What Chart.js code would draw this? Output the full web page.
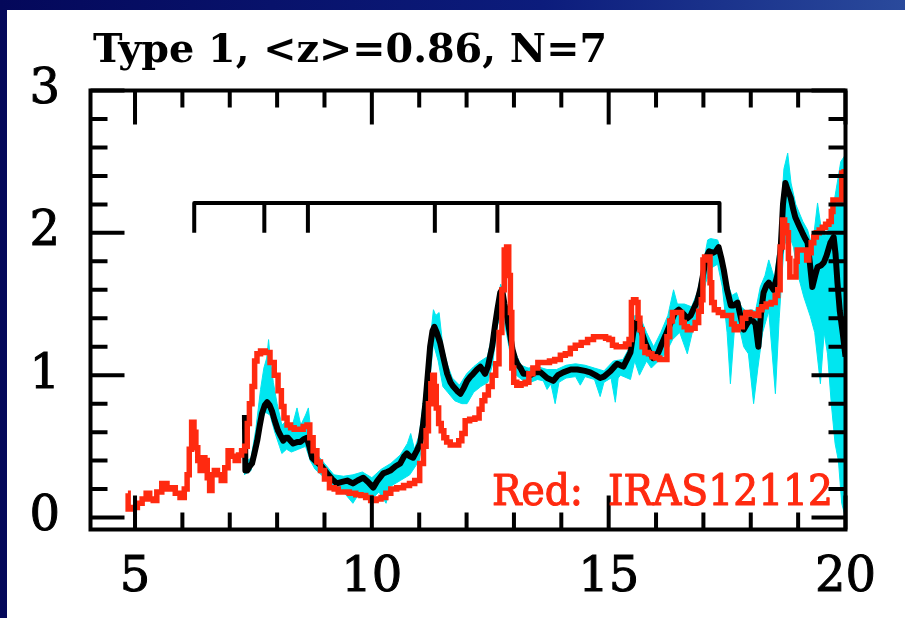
<!DOCTYPE html>
<html>
<head>
<meta charset="utf-8">
<script src="https://cdn.jsdelivr.net/npm/chart.js@4.4.1/dist/chart.umd.min.js"></script>
<style>
  html, body { margin: 0; padding: 0; background: #0a1078; }
  canvas { display: block; }
</style>
</head>
<body>
<canvas id="spec" width="905" height="618"></canvas>
<script>
// ---- labels ----
const titleText = 'Type 1, <z>=0.86, N=7';
const noteText = 'Red:  IRAS12112';
const xTickValues = [5, 10, 15, 20];
const yTickValues = [0, 1, 2, 3];

// PAH feature marks (microns) and the bracket height (flux units)
const featureBands = [6.25, 7.73, 8.65, 11.33, 12.65, 17.34];
const featureLevel = [2.21, 2.0];

// ---- template spectrum (black) ----
const blackWave = [7.32,7.33,7.37,7.42,7.47,7.52,7.58,7.63,7.68,7.74,7.79,7.84,7.89,7.95,8.02,8.08,8.13,8.18,8.23,8.28,8.34,8.42,8.49,8.56,8.63,8.68,8.74,8.8,8.87,8.94,9.01,9.08,9.16,9.26,9.37,9.48,9.54,9.6,9.7,9.82,9.92,10.03,10.12,10.24,10.32,10.39,10.5,10.6,10.68,10.74,10.8,10.87,10.95,11.02,11.08,11.13,11.18,11.23,11.28,11.32,11.37,11.44,11.52,11.59,11.66,11.72,11.8,11.87,11.94,12.01,12.08,12.14,12.22,12.29,12.35,12.39,12.45,12.54,12.6,12.65,12.71,12.75,12.8,12.86,12.92,12.97,13.02,13.07,13.14,13.2,13.28,13.35,13.45,13.56,13.7,13.83,13.93,14.04,14.2,14.34,14.5,14.61,14.72,14.82,14.9,15.04,15.12,15.18,15.25,15.31,15.4,15.46,15.52,15.58,15.64,15.7,15.77,15.85,15.94,16.05,16.12,16.2,16.3,16.4,16.48,16.58,16.66,16.73,16.8,16.87,16.94,17.0,17.06,17.12,17.2,17.26,17.32,17.38,17.43,17.5,17.58,17.64,17.72,17.78,17.85,17.92,17.99,18.05,18.1,18.16,18.22,18.27,18.33,18.38,18.48,18.56,18.63,18.68,18.73,18.78,18.84,18.9,18.94,19.02,19.09,19.15,19.2,19.25,19.3,19.36,19.41,19.48,19.54,19.6,19.68,19.75,19.79,19.83,19.88,19.94,20.0];
const blackFlux = [0.72,0.33,0.33,0.36,0.38,0.45,0.54,0.64,0.73,0.79,0.81,0.79,0.75,0.68,0.61,0.57,0.54,0.56,0.56,0.54,0.52,0.53,0.53,0.55,0.56,0.50,0.42,0.40,0.38,0.36,0.33,0.30,0.27,0.24,0.25,0.26,0.25,0.24,0.26,0.28,0.25,0.21,0.26,0.31,0.32,0.33,0.36,0.38,0.43,0.45,0.43,0.42,0.47,0.52,0.65,0.80,1.00,1.20,1.31,1.34,1.30,1.23,1.11,1.01,0.95,0.92,0.89,0.87,0.91,0.96,0.99,1.01,1.04,1.06,1.03,1.01,1.06,1.20,1.35,1.46,1.58,1.60,1.50,1.40,1.28,1.18,1.12,1.08,1.05,1.01,1.01,1.00,1.02,1.02,0.98,0.96,1.00,1.02,1.04,1.04,1.03,1.02,1.00,0.98,0.99,1.03,1.06,1.08,1.07,1.06,1.12,1.16,1.30,1.37,1.36,1.30,1.23,1.17,1.12,1.16,1.22,1.28,1.36,1.44,1.46,1.43,1.40,1.42,1.47,1.52,1.61,1.72,1.83,1.87,1.86,1.87,1.90,1.82,1.74,1.60,1.49,1.49,1.51,1.42,1.32,1.36,1.39,1.38,1.36,1.20,1.45,1.58,1.63,1.65,1.60,1.70,1.88,2.20,2.35,2.30,2.25,2.16,2.11,2.05,2.00,1.96,1.93,1.78,1.62,1.70,1.76,1.77,1.79,1.84,1.93,1.97,1.85,1.65,1.45,1.30,1.13];

// ---- scatter envelope of the template (cyan) ----
const bandTopWave = [7.3,7.45,7.55,7.65,7.72,7.78,7.82,7.86,7.92,8.0,8.1,8.2,8.3,8.42,8.5,8.6,8.66,8.72,8.85,9.0,9.2,9.4,9.6,9.8,10.0,10.2,10.4,10.6,10.75,10.82,10.9,11.0,11.1,11.2,11.3,11.35,11.42,11.5,11.6,11.7,11.85,12.0,12.15,12.3,12.44,12.55,12.65,12.72,12.8,12.9,13.0,13.15,13.3,13.5,13.7,13.9,14.1,14.3,14.5,14.7,14.9,15.1,15.3,15.45,15.55,15.65,15.8,15.95,16.1,16.25,16.37,16.45,16.6,16.75,16.87,16.98,17.09,17.15,17.3,17.4,17.5,17.6,17.7,17.8,17.9,18.0,18.1,18.2,18.3,18.38,18.5,18.6,18.7,18.78,18.85,18.95,19.1,19.2,19.3,19.41,19.5,19.6,19.7,19.8,19.9,20.0];
const bandTopFlux = [0.38,0.42,0.62,0.90,1.05,1.12,1.25,1.10,0.95,0.80,0.65,0.68,0.62,0.77,0.65,0.72,0.77,0.58,0.44,0.38,0.30,0.29,0.30,0.32,0.28,0.34,0.38,0.44,0.52,0.59,0.48,0.58,0.85,1.15,1.46,1.42,1.44,1.20,1.07,0.98,0.93,1.01,1.06,1.10,1.13,1.30,1.52,1.64,1.56,1.35,1.18,1.07,1.05,1.06,1.04,1.04,1.07,1.08,1.07,1.05,1.03,1.10,1.11,1.20,1.42,1.42,1.30,1.20,1.30,1.42,1.60,1.50,1.50,1.48,1.58,1.75,1.95,1.96,1.95,1.85,1.66,1.56,1.58,1.48,1.45,1.46,1.45,1.62,1.70,1.81,1.68,1.95,2.45,2.56,2.35,2.20,2.08,2.02,1.90,2.21,2.00,1.98,2.10,2.30,2.50,2.55];
const bandLowWave = [7.3,7.45,7.55,7.65,7.75,7.85,7.95,8.05,8.1,8.2,8.3,8.45,8.6,8.7,8.8,9.0,9.2,9.4,9.6,9.75,9.9,10.0,10.15,10.3,10.4,10.6,10.8,11.0,11.1,11.2,11.3,11.4,11.5,11.6,11.75,11.9,12.01,12.15,12.3,12.45,12.55,12.65,12.75,12.85,12.95,13.05,13.2,13.35,13.5,13.62,13.7,13.78,13.87,13.95,14.1,14.3,14.4,14.5,14.7,14.82,14.9,14.95,15.05,15.14,15.2,15.25,15.46,15.55,15.65,15.8,15.9,16.05,16.2,16.35,16.5,16.66,16.8,16.95,17.05,17.15,17.3,17.4,17.5,17.57,17.65,17.75,17.85,17.95,18.06,18.15,18.25,18.38,18.52,18.6,18.7,18.8,18.9,19.0,19.12,19.26,19.35,19.47,19.55,19.62,19.7,19.78,19.85,19.92,20.0];
const bandLowFlux = [0.30,0.33,0.48,0.66,0.74,0.72,0.60,0.50,0.45,0.48,0.46,0.48,0.50,0.40,0.34,0.28,0.20,0.18,0.10,0.18,0.15,0.13,0.18,0.10,0.22,0.26,0.30,0.40,0.58,0.90,1.22,1.10,0.92,0.88,0.82,0.80,0.80,0.88,0.92,0.95,1.08,1.35,1.45,1.28,1.10,1.00,0.96,0.95,0.97,0.96,0.90,0.94,0.80,0.95,0.98,0.99,0.93,0.99,0.97,0.85,0.95,0.96,0.98,0.81,0.98,1.00,0.97,1.10,1.00,1.10,1.05,1.10,1.15,1.25,1.30,1.15,1.35,1.48,1.65,1.75,1.78,1.62,1.30,0.94,1.30,1.35,1.20,1.15,0.80,1.05,1.30,1.45,0.87,1.40,1.90,2.00,1.90,1.70,1.55,1.41,1.30,0.94,1.30,1.15,0.80,0.52,0.40,0.10,0.00];

// ---- IRAS 12112 spectrum (red) ----
const redWave = [4.85,4.86,5.0,5.1,5.2,5.27,5.35,5.42,5.5,5.63,5.72,5.8,5.9,6.0,6.08,6.12,6.17,6.22,6.27,6.3,6.35,6.4,6.45,6.5,6.55,6.6,6.65,6.7,6.78,6.86,6.93,7.0,7.08,7.15,7.22,7.28,7.35,7.39,7.44,7.5,7.55,7.6,7.7,7.8,7.9,7.98,8.06,8.12,8.17,8.25,8.32,8.4,8.5,8.6,8.66,8.72,8.8,8.88,8.95,9.05,9.16,9.25,9.33,9.45,9.6,9.72,9.82,9.92,10.03,10.15,10.24,10.35,10.45,10.6,10.74,10.85,10.96,11.06,11.12,11.17,11.22,11.27,11.3,11.34,11.38,11.44,11.49,11.55,11.61,11.7,11.8,11.87,11.93,12.01,12.12,12.23,12.3,12.35,12.42,12.5,12.58,12.65,12.72,12.77,12.82,12.87,12.91,12.94,12.97,13.02,13.1,13.2,13.28,13.35,13.45,13.56,13.7,13.8,13.92,14.04,14.13,14.25,14.34,14.5,14.61,14.75,14.9,14.97,15.04,15.12,15.2,15.31,15.4,15.46,15.5,15.55,15.6,15.64,15.68,15.73,15.8,15.88,15.95,16.03,16.12,16.2,16.26,16.32,16.37,16.45,16.51,16.57,16.62,16.7,16.78,16.87,16.93,16.98,17.0,17.05,17.12,17.16,17.19,17.27,17.36,17.46,17.57,17.62,17.68,17.78,17.86,17.93,18.04,18.14,18.2,18.27,18.38,18.48,18.55,18.59,18.65,18.69,18.74,18.78,18.81,18.84,18.94,18.97,18.99,19.1,19.16,19.2,19.25,19.3,19.36,19.41,19.48,19.54,19.62,19.68,19.72,19.75,19.85,19.9,19.94,20.0];
const redFlux = [0.17,0.06,0.07,0.10,0.13,0.17,0.13,0.12,0.18,0.24,0.20,0.21,0.17,0.14,0.20,0.30,0.48,0.67,0.60,0.49,0.40,0.33,0.42,0.40,0.28,0.19,0.30,0.33,0.30,0.26,0.35,0.47,0.43,0.40,0.44,0.47,0.50,0.66,0.80,0.92,1.10,1.15,1.17,1.16,1.09,1.00,0.89,0.78,0.70,0.65,0.63,0.62,0.62,0.64,0.65,0.56,0.47,0.39,0.33,0.27,0.21,0.20,0.18,0.18,0.17,0.16,0.155,0.14,0.12,0.13,0.14,0.17,0.20,0.21,0.225,0.24,0.26,0.38,0.50,0.61,0.80,0.94,1.00,0.92,0.77,0.66,0.61,0.56,0.53,0.51,0.51,0.54,0.59,0.68,0.69,0.70,0.76,0.82,0.86,0.92,1.00,1.08,1.30,1.60,1.88,1.90,1.70,1.44,1.05,0.95,0.93,0.94,0.95,1.01,1.05,1.09,1.09,1.10,1.11,1.14,1.15,1.19,1.21,1.23,1.25,1.27,1.27,1.26,1.25,1.21,1.20,1.20,1.22,1.25,1.51,1.53,1.51,1.40,1.32,1.20,1.16,1.15,1.13,1.12,1.11,1.11,1.27,1.38,1.44,1.44,1.44,1.37,1.34,1.32,1.33,1.37,1.45,1.53,1.81,1.83,1.83,1.65,1.51,1.46,1.44,1.42,1.42,1.36,1.32,1.34,1.40,1.44,1.43,1.42,1.46,1.48,1.50,1.51,1.56,1.60,1.90,2.09,2.05,2.00,1.82,1.69,1.69,1.80,1.88,1.88,1.88,1.81,1.86,1.93,1.97,2.00,2.02,2.04,2.06,2.08,2.15,2.23,2.23,2.23,2.42,2.43];

const pairs = (xs, ys) => xs.map((x, i) => ({ x, y: ys[i] }));

const INK = '#000000';
const RED = '#ff2a10';
const CYAN = '#00e6f0';

// draw a string stretched or squeezed to a given width, with a light outline for weight
function fitText(ctx, text, left, baseline, width, outline) {
  const w = ctx.measureText(text).width;
  ctx.save();
  ctx.translate(left, baseline);
  ctx.scale(width / w, 1);
  ctx.fillText(text, 0, 0);
  if (outline) {
    ctx.lineWidth = outline;
    ctx.strokeStyle = ctx.fillStyle;
    ctx.lineJoin = 'round';
    ctx.strokeText(text, 0, 0);
  }
  ctx.restore();
}

// slide background, white panel, frame, inward ticks, feature bracket and captions
const decor = {
  id: 'decor',
  beforeDraw(chart) {
    const { ctx, width, height } = chart;
    ctx.save();
    const g = ctx.createLinearGradient(0, 0, width, 0);
    g.addColorStop(0, '#04085a');
    g.addColorStop(0.6, '#0c1c7c');
    g.addColorStop(1, '#2a4a9c');
    ctx.fillStyle = g;
    ctx.fillRect(0, 0, width, height);
    ctx.fillStyle = '#ffffff';
    ctx.fillRect(7, 10, width - 7, height - 10);
    ctx.restore();
  },
  afterDatasetsDraw(chart) {
    const { ctx, chartArea: a, scales: { x, y } } = chart;
    ctx.save();
    ctx.strokeStyle = INK;
    ctx.lineWidth = 4;
    ctx.lineCap = 'butt';

    // inward tick marks on all four sides
    const major = 34, minor = 17;
    ctx.beginPath();
    for (let v = Math.ceil(x.min); v <= x.max + 1e-9; v += 1) {
      const px = x.getPixelForValue(v);
      const len = v % 5 === 0 ? major : minor;
      ctx.moveTo(px, a.bottom); ctx.lineTo(px, a.bottom - len);
      ctx.moveTo(px, a.top); ctx.lineTo(px, a.top + len);
    }
    for (let k = Math.ceil(y.min * 5); k <= Math.floor(y.max * 5); k++) {
      const py = y.getPixelForValue(k / 5);
      const len = k % 5 === 0 ? major : minor;
      ctx.moveTo(a.left, py); ctx.lineTo(a.left + len, py);
      ctx.moveTo(a.right, py); ctx.lineTo(a.right - len, py);
    }
    ctx.stroke();

    // plot frame
    ctx.strokeRect(a.left, a.top, a.right - a.left, a.bottom - a.top);

    // feature bracket
    const yTop = y.getPixelForValue(featureLevel[0]);
    const yEnd = y.getPixelForValue(featureLevel[1]);
    const xs = featureBands.map(v => x.getPixelForValue(v));
    ctx.lineJoin = 'round';
    ctx.beginPath();
    ctx.moveTo(xs[0], yEnd);
    ctx.lineTo(xs[0], yTop);
    ctx.lineTo(xs[xs.length - 1], yTop);
    ctx.lineTo(xs[xs.length - 1], yEnd);
    for (let i = 1; i < xs.length - 1; i++) {
      ctx.moveTo(xs[i], yTop); ctx.lineTo(xs[i], yEnd);
    }
    ctx.stroke();

    ctx.textBaseline = 'alphabetic';

    // caption naming the red spectrum
    ctx.font = '43px "DejaVu Serif"';
    ctx.fillStyle = RED;
    fitText(ctx, noteText, 492, 505, 341, 1.2);

    // title
    ctx.font = 'bold 39px "DejaVu Serif"';
    ctx.fillStyle = INK;
    fitText(ctx, titleText, 93, 62, 514, 0);
    ctx.restore();
  }
};

const tickFont = { family: '"DejaVu Serif"', size: 48 };

new Chart(document.getElementById('spec'), {
  type: 'line',
  data: {
    datasets: [
      { data: pairs(redWave, redFlux), borderColor: RED, borderWidth: 5.5, stepped: 'middle',
        pointRadius: 0, fill: false, borderJoinStyle: 'miter' },
      { data: pairs(blackWave, blackFlux), borderColor: INK, borderWidth: 6,
        pointRadius: 0, fill: false, borderJoinStyle: 'round' },
      { data: pairs(bandTopWave, bandTopFlux), borderColor: CYAN, borderWidth: 1,
        pointRadius: 0, fill: '+1', backgroundColor: CYAN },
      { data: pairs(bandLowWave, bandLowFlux), borderColor: CYAN, borderWidth: 1,
        pointRadius: 0, fill: false }
    ]
  },
  options: {
    responsive: false,
    devicePixelRatio: 1,
    animation: false,
    layout: { padding: { left: 0, top: 90.5, right: 59.5, bottom: 0 } },
    plugins: { legend: { display: false }, tooltip: { enabled: false }, title: { display: false } },
    scales: {
      x: {
        type: 'linear', min: 4.06, max: 20,
        grid: { display: false, drawTicks: false }, border: { display: false },
        ticks: { font: tickFont, color: INK, padding: 20, maxRotation: 0, autoSkip: false,
                 textStrokeColor: INK, textStrokeWidth: 1 },
        afterBuildTicks: s => { s.ticks = xTickValues.map(v => ({ value: v })); },
        afterFit: s => { s.height = 88.5; }
      },
      y: {
        type: 'linear', min: -0.084, max: 3,
        grid: { display: false, drawTicks: false }, border: { display: false },
        ticks: { font: tickFont, color: INK, padding: 30.5, autoSkip: false,
                 textStrokeColor: INK, textStrokeWidth: 1 },
        afterBuildTicks: s => { s.ticks = yTickValues.map(v => ({ value: v })); },
        afterFit: s => { s.width = 90.5; }
      }
    }
  },
  plugins: [decor]
});
</script>
</body>
</html>
